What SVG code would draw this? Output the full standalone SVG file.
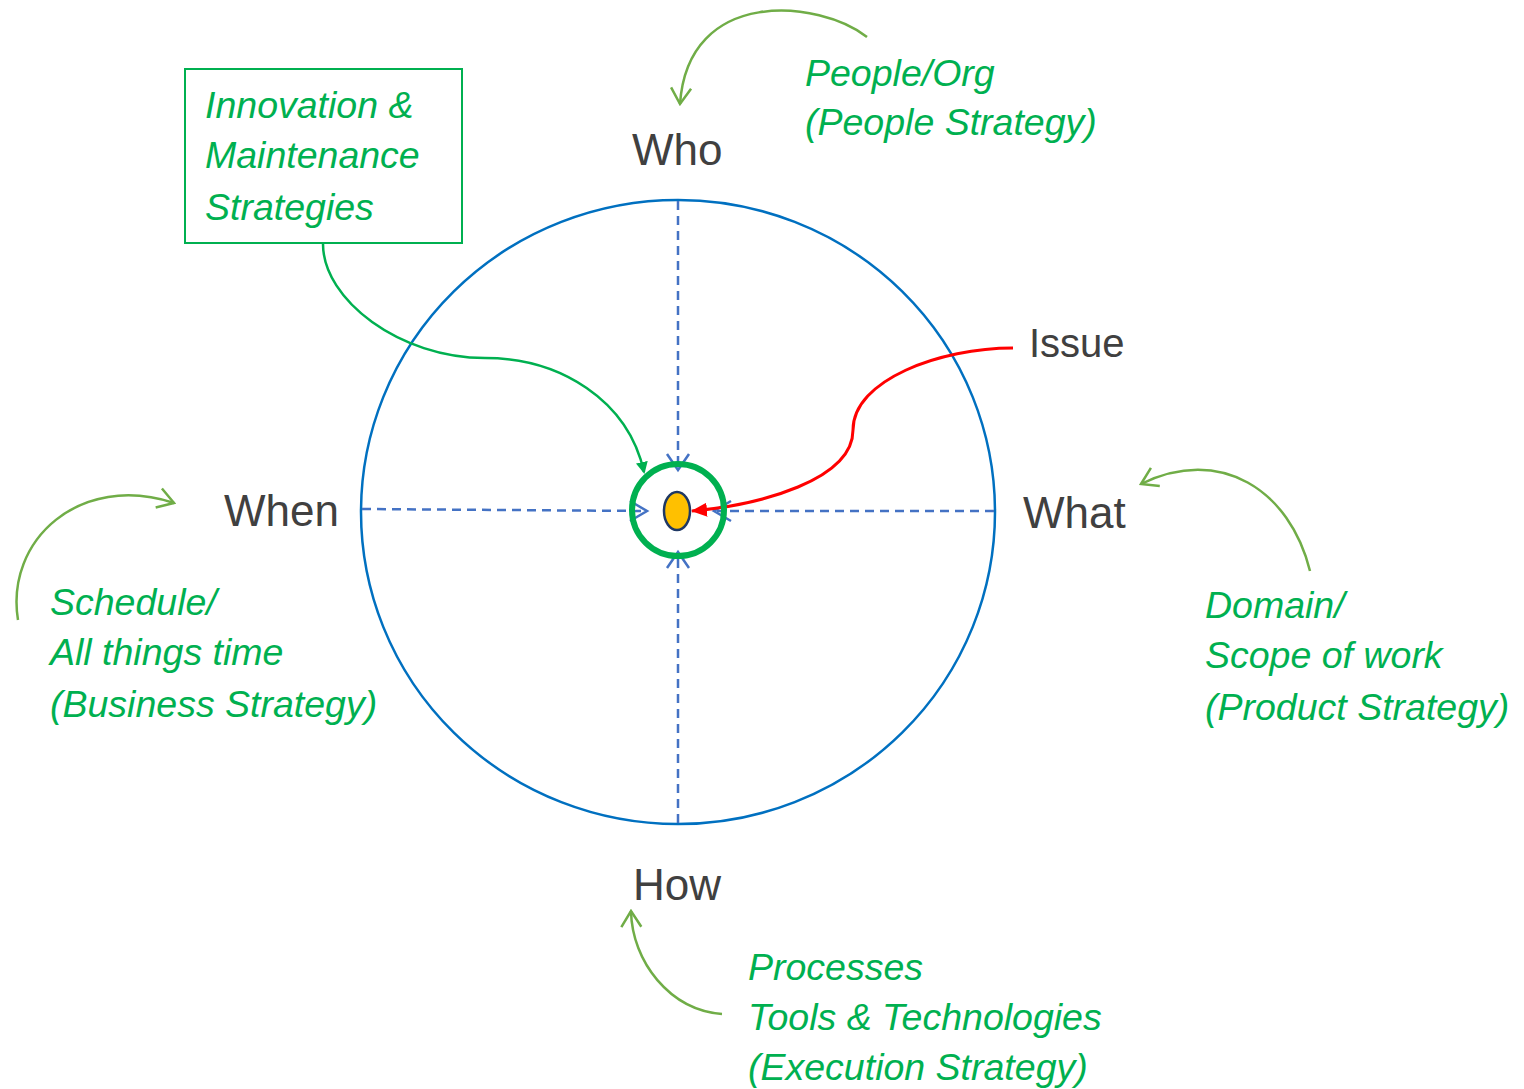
<svg xmlns="http://www.w3.org/2000/svg" width="1524" height="1089" viewBox="0 0 1524 1089">
<style>
.lbl{font-family:"Liberation Sans",Arial,sans-serif;font-size:44px;fill:#404040}
.gt{font-family:"Liberation Sans",Arial,sans-serif;font-size:37.5px;font-style:italic;fill:#00B050}
.dash{stroke:#4472C4;stroke-width:2.5;stroke-dasharray:9,6;fill:none}
.ah{stroke:#4472C4;stroke-width:2.5;fill:none}
.cv{stroke:#70AD47;stroke-width:2.5;fill:none}
</style>
<defs>
<marker id="mg" markerWidth="12" markerHeight="12" refX="10" refY="6" orient="auto" markerUnits="userSpaceOnUse" viewBox="0 0 12 12">
<path d="M0,0 L12,6 L0,12 z" fill="#00B050"/>
</marker>
<marker id="mr" markerWidth="16" markerHeight="14" refX="15" refY="7" orient="auto" markerUnits="userSpaceOnUse" viewBox="0 0 16 14">
<path d="M0,0 L16,7 L0,14 z" fill="#FF0000"/>
</marker>
<marker id="mo" markerWidth="20" markerHeight="24" refX="18" refY="12" orient="auto" markerUnits="userSpaceOnUse" viewBox="0 0 20 24">
<path d="M2,2 L18,12 L2,22" fill="none" stroke="#70AD47" stroke-width="2.5"/>
</marker>
</defs>

<g id="outer-circle">
<ellipse cx="678" cy="512" rx="317" ry="312" fill="none" stroke="#0070C0" stroke-width="2.5"/>
</g>

<g id="connectors">
<line class="dash" x1="678" y1="201" x2="678" y2="468"/>
<polyline class="ah" points="667,454 678,470 689,454"/>
<line class="dash" x1="678" y1="823" x2="678" y2="554"/>
<polyline class="ah" points="667,568 678,552 689,568"/>
<line class="dash" x1="362" y1="509" x2="645" y2="511"/>
<polyline class="ah" points="630,501 647,511 630,521"/>
<line class="dash" x1="994" y1="511" x2="717" y2="511"/>
<polyline class="ah" points="731,501 714,511 731,521"/>
<path d="M323,244 C323,300 400,358 485,358 C560,358 628,400 644,472" fill="none" stroke="#00B050" stroke-width="2.5" marker-end="url(#mg)"/>
<path d="M1013,348 C940,348 853,380 853,430 C853,480 760,505 692,511" fill="none" stroke="#FF0000" stroke-width="3" marker-end="url(#mr)"/>
<path class="cv" d="M867,37 C820,0 688,-14 680,104" marker-end="url(#mo)"/>
<path class="cv" d="M18,620 C5,540 80,472 174,503" marker-end="url(#mo)"/>
<path class="cv" d="M1310,571 C1290,490 1220,445 1141,484" marker-end="url(#mo)"/>
<path class="cv" d="M722,1014 C670,1010 632,962 631,911" marker-end="url(#mo)"/>
</g>

<g id="center">
<circle cx="678" cy="510" r="46" fill="none" stroke="#00B050" stroke-width="6"/>
<ellipse cx="677" cy="511" rx="13" ry="19" fill="#FFC000" stroke="#1F3864" stroke-width="2.5"/>
</g>

<g id="who"><text class="lbl" x="632" y="165">Who</text></g>
<g id="when"><text class="lbl" x="224" y="526">When</text></g>
<g id="what"><text class="lbl" x="1023" y="528">What</text></g>
<g id="how"><text class="lbl" x="633" y="900">How</text></g>
<g id="issue"><text class="lbl" x="1029" y="357" style="font-size:40px">Issue</text></g>

<g id="innovation-box">
<rect x="185" y="69" width="277" height="174" fill="none" stroke="#00B050" stroke-width="2"/>
<text class="gt" x="205" y="118">Innovation &amp;</text>
<text class="gt" x="205" y="168">Maintenance</text>
<text class="gt" x="205" y="220">Strategies</text>
</g>

<g id="people">
<text class="gt" x="805" y="86">People/Org</text>
<text class="gt" x="805" y="135">(People Strategy)</text>
</g>

<g id="schedule">
<text class="gt" x="50" y="615">Schedule/</text>
<text class="gt" x="50" y="665">All things time</text>
<text class="gt" x="50" y="717">(Business Strategy)</text>
</g>

<g id="domain">
<text class="gt" x="1205" y="618">Domain/</text>
<text class="gt" x="1205" y="668">Scope of work</text>
<text class="gt" x="1205" y="720">(Product Strategy)</text>
</g>

<g id="processes">
<text class="gt" x="748" y="980">Processes</text>
<text class="gt" x="748" y="1030">Tools &amp; Technologies</text>
<text class="gt" x="748" y="1080">(Execution Strategy)</text>
</g>
</svg>
